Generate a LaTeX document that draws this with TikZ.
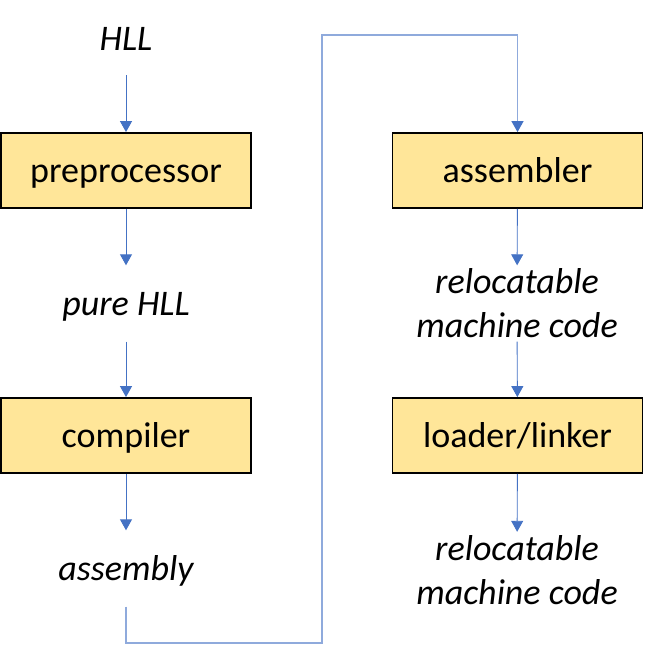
\documentclass[tikz,border=0pt]{standalone}
\usepackage{fontspec}
\setmainfont{Carlito}
\usepackage{tikz}
\usetikzlibrary{arrows.meta, positioning, calc}
\definecolor{boxfill}{HTML}{FFE699}
\definecolor{flowblue}{HTML}{4472C4}
\definecolor{loopblue}{HTML}{8FAADC}

\begin{document}
\begin{tikzpicture}[x=1pt, y=-1pt,
  stage/.style={draw, line width=1.8pt, fill=boxfill, minimum width=250pt, minimum height=75pt, inner sep=0pt, text height=24pt, text depth=0pt, font=\fontsize{36}{44}\selectfont},
  data/.style={minimum height=76pt, inner sep=0pt, align=center, font=\fontsize{36}{44}\selectfont\itshape},
  oneline/.style={text height=23pt, text depth=0pt},
  flow/.style={draw=flowblue, line width=0.9pt, -{Triangle[width=12pt, length=11pt]}},
  feed/.style={draw=loopblue, line width=1.2pt, -{Triangle[width=12pt, length=11pt, color=flowblue]}}]
\useasboundingbox (0,0) rectangle (645,645);
% Left column
\node[data, oneline, minimum height=73pt] (hll) at (126,38.5) {HLL};
\node[stage] (preproc) at (126,170.5) {preprocessor};
\node[data, oneline] (purehll) at (126,303.5) {pure HLL};
\node[stage] (compiler) at (126,435.5) {compiler};
\node[data, oneline] (asm) at (126,568.5) {assembly};

% Right column
\node[stage] (assembler) at (517.5,170.5) {assembler};
\node[data] (reloc) at (517,303.5) {relocatable\\machine code};
\node[stage] (loader) at (517.5,435.5) {loader/linker};
\node[data] (relocout) at (517,570) {relocatable\\machine code};

% Arrows
\draw[flow] (hll) -- (preproc);
\draw[flow] (preproc) -- (purehll);
\draw[flow] (purehll) -- (compiler);
\draw[flow] (compiler) -- (asm);
\draw[flow] (assembler) -- (reloc);
\draw[flow] (reloc) -- (loader);
\draw[flow] (loader) -- (relocout);

% Link between columns
\coordinate (lowturn) at (322,643);
\coordinate (highturn) at (322,35);
\draw[feed] (asm.south) |- (lowturn) -- (highturn) -| (assembler.north);
\end{tikzpicture}
\end{document}
